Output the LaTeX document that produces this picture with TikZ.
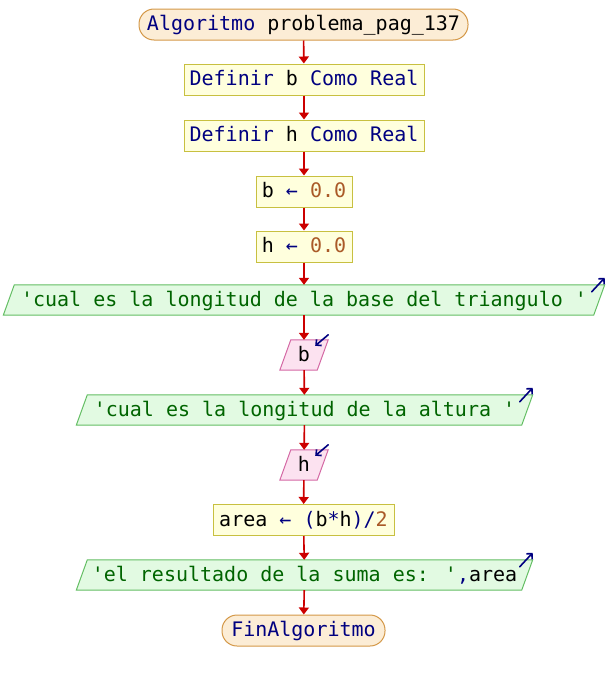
\documentclass[tikz,border=0pt]{standalone}
\usepackage{fontspec}
\usetikzlibrary{arrows.meta,backgrounds}
\newfontfamily\codefont{DejaVu Sans Mono}

\definecolor{termfill}{RGB}{252,237,214}
\definecolor{termline}{RGB}{212,152,72}
\definecolor{procfill}{RGB}{255,255,221}
\definecolor{procline}{RGB}{200,192,64}
\definecolor{outfill}{RGB}{226,250,226}
\definecolor{outline}{RGB}{100,190,100}
\definecolor{infill}{RGB}{252,226,240}
\definecolor{inline}{RGB}{212,104,164}
\definecolor{flowred}{RGB}{204,0,0}
\definecolor{kw}{RGB}{0,0,128}
\definecolor{str}{RGB}{0,100,0}
\definecolor{num}{RGB}{170,90,40}

\newcommand{\kw}[1]{{\color{kw}#1}}
\newcommand{\str}[1]{{\color{str}#1}}
\newcommand{\num}[1]{{\color{num}#1}}
\newcommand{\asg}{{\color{kw}←}}
\newcommand{\q}{\textquotesingle}

% parallelogram behind a text node: #1 node, #2 fill, #3 border
\newcommand{\slantbox}[3]{%
  \begin{scope}[on background layer]
    \filldraw[fill=#2,draw=#3,line width=1pt]
      ([xshift=5.5pt]#1.north west) -- ([xshift=5.5pt]#1.north east) --
      ([xshift=-5.5pt]#1.south east) -- ([xshift=-5.5pt]#1.south west) -- cycle;
  \end{scope}}

\tikzset{
  base/.style={font=\codefont\fontsize{20}{24}\selectfont, inner sep=0pt,
               minimum height=30pt, text height=14pt, text depth=2pt},
  term/.style={base, draw=termline, fill=termfill, line width=1pt,
               rounded corners=15pt, minimum height=31pt},
  proc/.style={base, draw=procline, fill=procfill, line width=1pt,
               minimum height=31pt},
  iobox/.style={base},
  flow/.style={draw=flowred, line width=1.6pt,
               -{Triangle[length=7pt,width=10pt]}},
  icon/.style={draw=kw, line width=1.6pt, line cap=round,
               -{Straight Barb[length=4pt,width=8pt]}}
}

\begin{document}
\begin{tikzpicture}[x=1pt,y=-1pt]
\useasboundingbox (0,0) rectangle (608,680);

\node[term, minimum width=329pt] (start) at (303.5,24.5)
  {\kw{Algoritmo} problema\_pag\_137};
\node[proc, minimum width=240pt] (defb) at (304,79.5)
  {\kw{Definir} b \kw{Como Real}};
\node[proc, minimum width=240pt] (defh) at (304,135.5)
  {\kw{Definir} h \kw{Como Real}};
\node[proc, minimum width=96pt] (setb) at (304,191.5)
  {b \asg{} \num{0.0}};
\node[proc, minimum width=96pt] (seth) at (304,246.5)
  {h \asg{} \num{0.0}};
\node[iobox, minimum width=590pt] (outbase) at (304,300)
  {\str{\q cual es la longitud de la base del triangulo \q}};
\node[iobox, minimum width=37pt] (readb) at (304,355) {b};
\node[iobox, minimum width=445pt] (outheight) at (304.5,410)
  {\str{\q cual es la longitud de la altura \q}};
\node[iobox, minimum width=37pt] (readh) at (304,465) {h};
\node[proc, minimum width=181pt] (area) at (303.5,520)
  {area \asg{} \kw{(}b\kw{*}h\kw{)/}\num{2}};
\node[iobox, minimum width=445pt] (outres) at (304.5,575)
  {\str{\q el resultado de la suma es: \q}\kw{,}area};
\node[term, minimum width=163pt] (fin) at (303.5,630.5)
  {\kw{FinAlgoritmo}};

\slantbox{outbase}{outfill}{outline}
\slantbox{readb}{infill}{inline}
\slantbox{outheight}{outfill}{outline}
\slantbox{readh}{infill}{inline}
\slantbox{outres}{outfill}{outline}

% output markers
\foreach \n in {outbase,outheight,outres}{
  \coordinate (\n-tail) at ([xshift=-7.5pt,yshift=-7pt]\n.north east);
  \coordinate (\n-tip)  at ([xshift=5.5pt,yshift=7pt]\n.north east);
  \draw[icon] (\n-tail) -- (\n-tip);
}
% input markers
\foreach \n in {readb,readh}{
  \coordinate (\n-tail) at ([xshift=5.5pt,yshift=5pt]\n.north east);
  \coordinate (\n-tip)  at ([xshift=-7.5pt,yshift=-6pt]\n.north east);
  \draw[icon] (\n-tail) -- (\n-tip);
}

% flow
\draw[flow] (start) -- (defb);
\draw[flow] (defb) -- (defh);
\draw[flow] (defh) -- (setb);
\draw[flow] (setb) -- (seth);
\draw[flow] (seth) -- (outbase);
\draw[flow] (outbase) -- (readb);
\draw[flow] (readb) -- (outheight);
\draw[flow] (outheight) -- (readh);
\draw[flow] (readh) -- (area);
\draw[flow] (area) -- (outres);
\draw[flow] (outres) -- (fin);
\end{tikzpicture}
\end{document}
